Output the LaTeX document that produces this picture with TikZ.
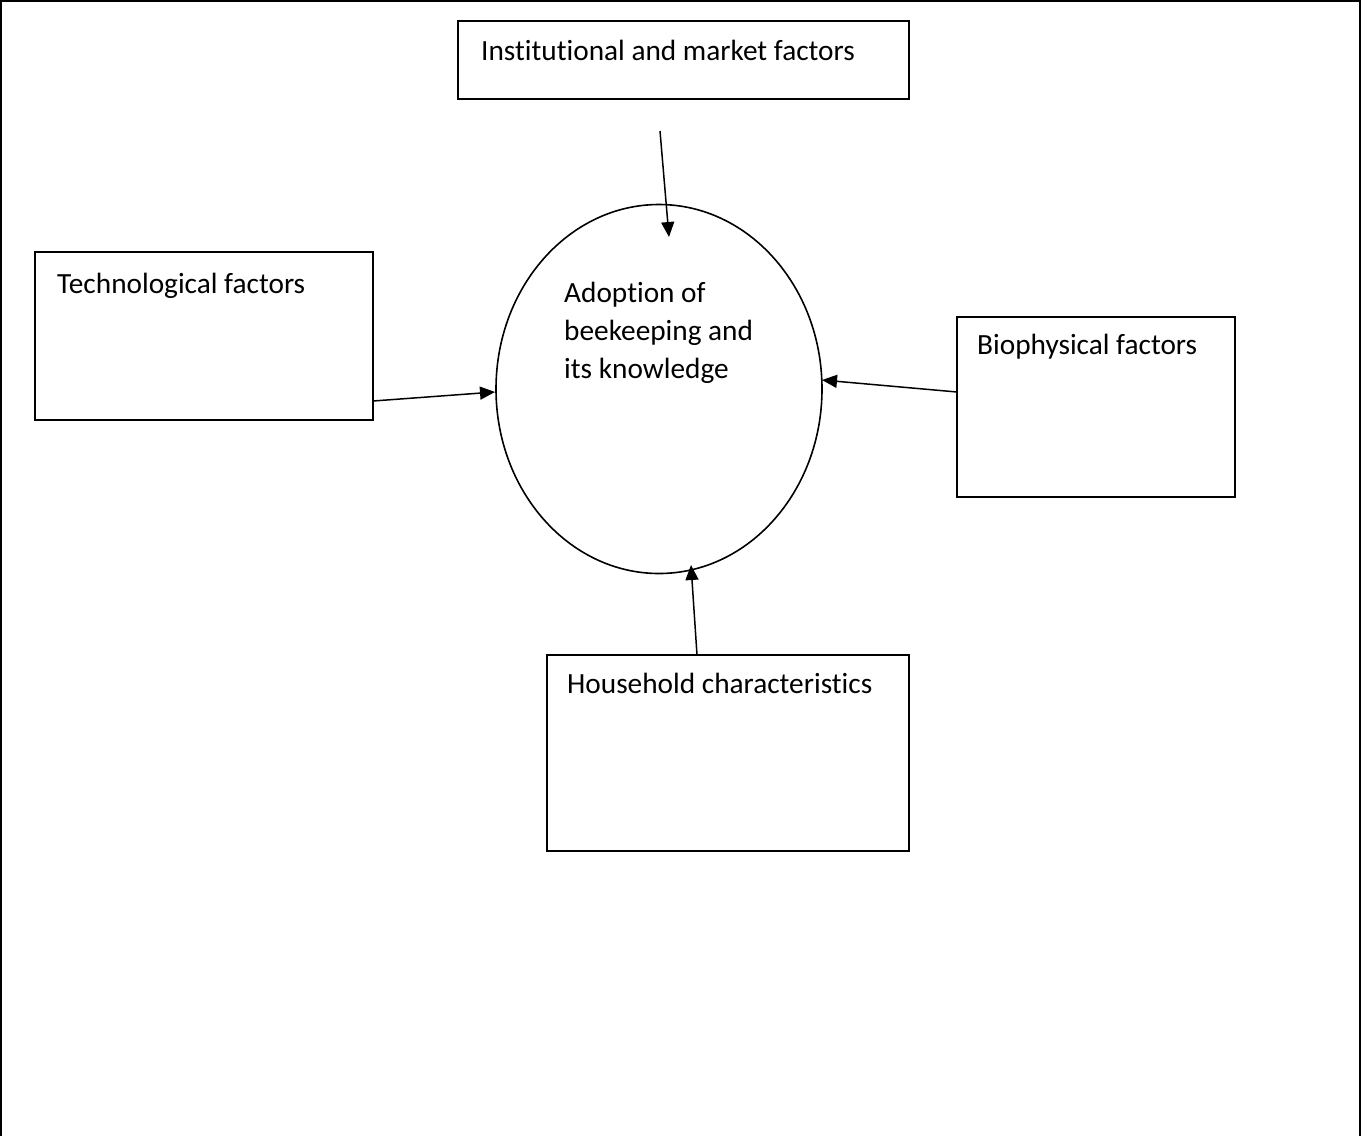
\documentclass[tikz,border=0pt]{standalone}
\usepackage{fontspec}
\setmainfont{Carlito}[Ligatures=NoCommon]
\usetikzlibrary{arrows.meta,shapes.geometric}
\begin{document}
\begin{tikzpicture}[x=1pt,y=-1pt,
  box/.style={draw,line width=1.6pt,rectangle,inner sep=0pt},
  lbl/.style={anchor=base west,inner sep=0pt,font=\fontsize{29.3}{38}\selectfont},
  arr/.style={line width=1.5pt,-{Triangle[length=15pt,width=13pt]}}]
\useasboundingbox (0,0) rectangle (1361,1136);
\draw[line width=2.2pt] (1.2,1136) -- (1.2,1.2) -- (1359.8,1.2) -- (1359.8,1136);
% boxes
\node[box,minimum width=451pt,minimum height=78pt] (inst) at (683.5,60) {};
\node[box,minimum width=338pt,minimum height=168pt] (tech) at (204,336) {};
\node[box,minimum width=278pt,minimum height=180pt] (bio) at (1096,407) {};
\node[box,minimum width=362pt,minimum height=196pt] (house) at (728,753) {};
\node[draw,line width=1.6pt,ellipse,minimum width=326pt,minimum height=369pt,inner sep=0pt] (adopt) at (659,389) {};
% labels
\node[lbl] (instl) at (481,60) {Institutional and market factors};
\node[lbl] (techl) at (57,293) {Technological factors};
\node[lbl] (biol) at (977,354) {Biophysical factors};
\node[lbl] (housel) at (567,693) {Household characteristics};
\node[lbl] (adoptl1) at (564,302) {Adoption of};
\node[lbl] (adoptl2) at (564,340) {beekeeping and};
\node[lbl] (adoptl3) at (564,378) {its knowledge};
% arrow ends
\coordinate (a1) at (660,131);
\coordinate (t1) at (669,237);
\coordinate (a2) at (373,401);
\coordinate (t2) at (495,392);
\coordinate (a3) at (957,392);
\coordinate (t3) at (822,380);
\coordinate (a4) at (697,655);
\coordinate (t4) at (691,565);
\draw[arr] (a1) -- (t1);
\draw[arr] (a2) -- (t2);
\draw[arr] (a3) -- (t3);
\draw[arr] (a4) -- (t4);
\end{tikzpicture}
\end{document}
